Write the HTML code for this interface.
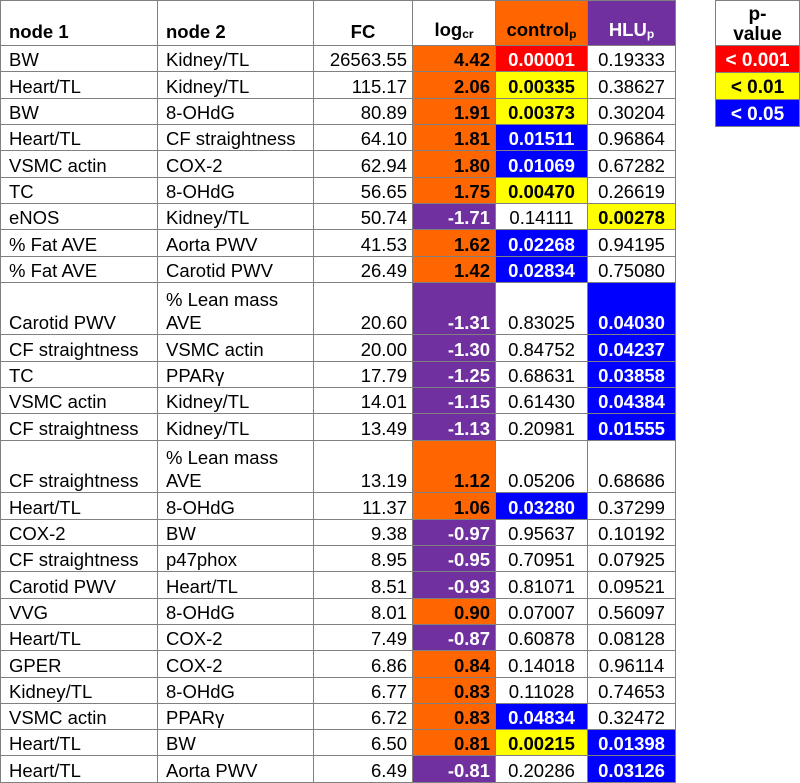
<!DOCTYPE html>
<html><head><meta charset="utf-8">
<style>
body{margin:0;width:800px;height:783px;background:#fff;font-family:"Liberation Sans",Arial,sans-serif;position:relative;overflow:hidden}
table{border-collapse:collapse;position:absolute;left:0;top:0;table-layout:fixed}
td{border:1px solid #808080;font-size:18.5px;padding:0 5px;line-height:23px;vertical-align:bottom;white-space:nowrap;overflow:hidden}
td.n{text-align:left;padding-left:8px}
td.r{text-align:right}
td.c{text-align:center}
th{font-size:18.5px;font-weight:bold;border:1px solid #808080;vertical-align:bottom;padding:0 5px 3px;line-height:20px}
sub{font-size:12px;vertical-align:baseline;position:relative;top:2px}
.o{background:#ff6600;color:#000;font-weight:bold}
.p{background:#7030a0;color:#fff;font-weight:bold}
.red{background:#ff0000;color:#fff;font-weight:bold}
.yel{background:#ffff00;color:#000;font-weight:bold}
.blu{background:#0000ff;color:#fff;font-weight:bold}
#legend{position:absolute;left:715px;top:0;border-collapse:collapse}
#legend td{border:1px solid #808080;text-align:center;font-weight:bold;padding:0;width:83px;font-size:19px}
</style></head><body>
<table id="t">
<colgroup><col style="width:157px"><col style="width:156px"><col style="width:99px"><col style="width:83px"><col style="width:92px"><col style="width:88px"></colgroup>
<thead><tr style="height:45px">
<th style="text-align:left;padding-left:8px">node 1</th>
<th style="text-align:left;padding-left:8px">node 2</th>
<th style="text-align:center">FC</th>
<th style="text-align:center">log<sub>cr</sub></th>
<th class="o" style="text-align:center">control<sub>p</sub></th>
<th class="p" style="text-align:center">HLU<sub>p</sub></th>
</tr></thead>
<tbody id="tb"></tbody>
</table>
<table id="legend">
<tr style="height:45px"><td style="line-height:20px;color:#000">p-<br>value</td></tr>
<tr style="height:27px"><td class="red">&lt; 0.001</td></tr>
<tr style="height:27px"><td class="yel">&lt; 0.01</td></tr>
<tr style="height:27px"><td class="blu">&lt; 0.05</td></tr>
</table>
<script>
const node1=["BW","Heart/TL","BW","Heart/TL","VSMC actin","TC","eNOS","% Fat AVE","% Fat AVE","Carotid PWV","CF straightness","TC","VSMC actin","CF straightness","CF straightness","Heart/TL","COX-2","CF straightness","Carotid PWV","VVG","Heart/TL","GPER","Kidney/TL","VSMC actin","Heart/TL","Heart/TL"];
const node2=["Kidney/TL","Kidney/TL","8-OHdG","CF straightness","COX-2","8-OHdG","Kidney/TL","Aorta PWV","Carotid PWV","% Lean mass AVE","VSMC actin","PPARγ","Kidney/TL","Kidney/TL","% Lean mass AVE","8-OHdG","BW","p47phox","Heart/TL","8-OHdG","COX-2","COX-2","8-OHdG","PPARγ","BW","Aorta PWV"];
const fc=["26563.55","115.17","80.89","64.10","62.94","56.65","50.74","41.53","26.49","20.60","20.00","17.79","14.01","13.49","13.19","11.37","9.38","8.95","8.51","8.01","7.49","6.86","6.77","6.72","6.50","6.49"];
const logcr=["4.42","2.06","1.91","1.81","1.80","1.75","-1.71","1.62","1.42","-1.31","-1.30","-1.25","-1.15","-1.13","1.12","1.06","-0.97","-0.95","-0.93","0.90","-0.87","0.84","0.83","0.83","0.81","-0.81"];
const controlP=["0.00001","0.00335","0.00373","0.01511","0.01069","0.00470","0.14111","0.02268","0.02834","0.83025","0.84752","0.68631","0.61430","0.20981","0.05206","0.03280","0.95637","0.70951","0.81071","0.07007","0.60878","0.14018","0.11028","0.04834","0.00215","0.20286"];
const hluP=["0.19333","0.38627","0.30204","0.96864","0.67282","0.26619","0.00278","0.94195","0.75080","0.04030","0.04237","0.03858","0.04384","0.01555","0.68686","0.37299","0.10192","0.07925","0.09521","0.56097","0.08128","0.96114","0.74653","0.32472","0.01398","0.03126"];
function pcls(v){v=parseFloat(v);return v<0.001?"red":v<0.01?"yel":v<0.05?"blu":"";}
const tb=document.getElementById('tb');
const unit=(782-45)/28;
for(let i=0;i<node1.length;i++){
  const tr=document.createElement('tr');
  
  
  const dbl=node2[i].indexOf('Lean')>=0;
  tr.style.height=(dbl?unit*2:unit)+'px';
  const cells=[[node1[i],'n','node1-cell'],[node2[i],'n','node2-cell'],[fc[i],'r','fc-cell'],[logcr[i],'r '+(parseFloat(logcr[i])<0?'p':'o'),'logcr-cell'],[controlP[i],'c '+pcls(controlP[i]),'control-p-cell'],[hluP[i],'c '+pcls(hluP[i]),'hlu-p-cell']];
  for(const c of cells){
    const td=document.createElement('td');
    td.className=c[1];
    if(dbl&&c[2]==='node2-cell'){td.innerHTML='% Lean mass<br>AVE';}else{td.textContent=c[0];}
    
    
    tr.appendChild(td);
  }
  tb.appendChild(tr);
}
</script>
</body></html>
